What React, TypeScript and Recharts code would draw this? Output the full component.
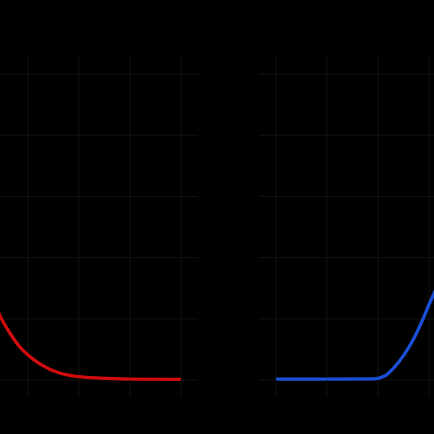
import React from "react";
import { LineChart, Line, XAxis, YAxis, CartesianGrid } from "recharts";

const xTicks = [0, 1, 2, 3, 4];
const yTicks = [0, 1, 2, 3, 4, 5];

const redX = [0, 0.45, 0.65, 0.84, 1.0, 1.24, 1.63, 2.0, 2.41, 3.0, 4.0];
const redValues = [2.2, 1.05, 0.76, 0.54, 0.41, 0.26, 0.11, 0.055, 0.03, 0.015, 0.01];

const blueX = [0, 1, 1.92, 2.12, 2.31, 2.51, 2.71, 2.9, 3.0, 3.1, 4.0];
const blueValues = [0.015, 0.015, 0.02, 0.06, 0.2, 0.41, 0.69, 1.03, 1.23, 1.42, 3.4];

const redData = redX.map((x, i) => ({ x, v: redValues[i] }));
const blueData = blueX.map((x, i) => ({ x, v: blueValues[i] }));

const GRID = "#111111";
const PLOT_W = 204;
const PLOT_H = 306;
const AX = 20;
const TS = 17;

const NoLabel = () => <g />;

function Panel({ data, color, yOrient, left }: { data: any[]; color: string; yOrient: "left" | "right"; left: number }) {
  return (
    <div style={{ position: "absolute", left, top: 74 - AX }}>
      <LineChart
        width={PLOT_W + AX}
        height={PLOT_H + 2 * AX}
        data={data}
        margin={{ top: 0, right: 0, bottom: 0, left: 0 }}
      >
        <CartesianGrid xAxisId="b" yAxisId="y" stroke={GRID} strokeWidth={1} />
        <XAxis
          xAxisId="b"
          dataKey="x"
          type="number"
          domain={[0, 4]}
          ticks={xTicks}
          orientation="bottom"
          height={AX}
          tickSize={TS}
          axisLine={false}
          tickLine={{ stroke: GRID }}
          tick={NoLabel}
        />
        <XAxis
          xAxisId="t"
          dataKey="x"
          type="number"
          domain={[0, 4]}
          ticks={xTicks}
          orientation="top"
          height={AX}
          tickSize={TS}
          axisLine={false}
          tickLine={{ stroke: GRID }}
          tick={NoLabel}
        />
        <YAxis
          yAxisId="y"
          type="number"
          domain={[0, 5]}
          ticks={yTicks}
          orientation={yOrient}
          width={AX}
          tickSize={TS}
          axisLine={false}
          tickLine={{ stroke: GRID }}
          tick={NoLabel}
        />
        <Line
          xAxisId="b"
          yAxisId="y"
          type="monotone"
          dataKey="v"
          stroke={color}
          strokeWidth={3.3}
          dot={false}
          isAnimationActive={false}
        />
      </LineChart>
    </div>
  );
}

export default function App() {
  return (
    <div
      style={{
        position: "fixed",
        left: 0,
        top: 0,
        width: 434,
        height: 434,
        background: "#000",
        overflow: "hidden",
      }}
    >
      <Panel data={redData} color="#d00c0c" yOrient="right" left={-23} />
      <Panel data={blueData} color="#1a50d8" yOrient="left" left={256} />
    </div>
  );
}
